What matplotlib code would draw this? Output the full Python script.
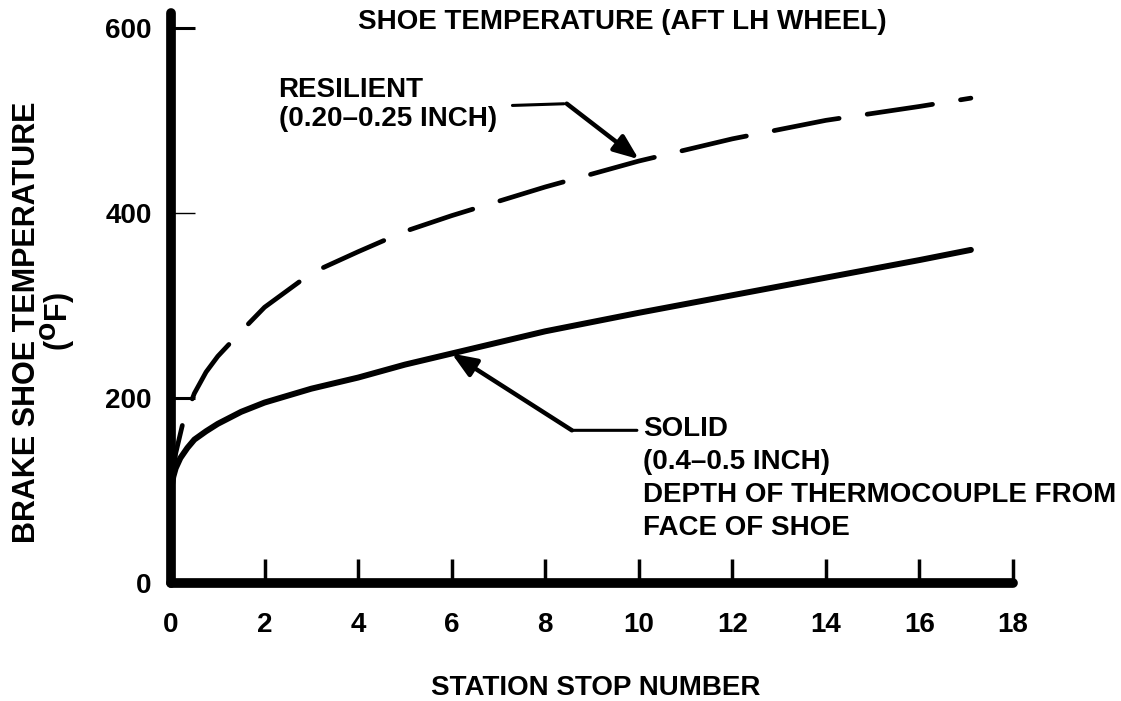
import matplotlib
matplotlib.use("Agg")
import matplotlib.pyplot as plt
import numpy as np

# Station stop number vs. brake shoe temperature (deg F)
solid_stops = [0, 0.05, 0.1, 0.2, 0.35, 0.5, 0.75, 1.0, 1.5, 2, 3, 4, 5, 6, 8, 10, 12, 14, 16, 17.1]
solid_temp = [100, 115, 124, 135, 146, 155, 164, 172, 185, 195, 210, 222, 236, 248, 272, 292, 311, 330, 349, 360]

resilient_stops = [0, 0.1, 0.25, 0.5, 0.75, 1.0, 1.5, 2, 3, 4, 5, 6, 8, 10, 12, 14, 16, 17.1]
resilient_temp = [100, 140, 172, 205, 228, 245, 272, 298, 335, 358, 380, 397, 428, 456, 480, 500, 515, 524]

x_ticks = [0, 2, 4, 6, 8, 10, 12, 14, 16, 18]
y_ticks = [0, 200, 400, 600]

plt.rcParams['font.family'] = ['Liberation Sans', 'DejaVu Sans']
plt.rcParams['font.weight'] = 'bold'
plt.rcParams['mathtext.default'] = 'bf'

W, H = 1121, 701
FS = 20
fig = plt.figure(figsize=(W / 100, H / 100), dpi=100)
ax = fig.add_axes([171 / W, (H - 583) / H, 842 / W, 570 / H])

ax.plot(solid_stops, solid_temp, color='black', lw=4.3, solid_capstyle='round')
ax.plot(resilient_stops, resilient_temp, color='black', lw=3.4,
        dashes=(14, 6), dash_capstyle='round')

ax.set_xlim(0, 18)
ax.set_ylim(0, 616)
for side in ('top', 'right'):
    ax.spines[side].set_visible(False)
for side in ('left', 'bottom'):
    ax.spines[side].set_linewidth(7)
    ax.spines[side].set_capstyle('round')

ax.set_xticks(x_ticks)
ax.set_xticklabels([str(t) for t in x_ticks])
ax.set_yticks(y_ticks)
ax.set_yticklabels([str(t) for t in y_ticks])
ax.tick_params(axis='x', direction='in', length=17, width=2.5, pad=21, labelsize=FS)
ax.tick_params(axis='y', direction='in', length=17, width=2.2, pad=14, labelsize=FS)
ax.yaxis.get_major_ticks()[0].tick1line.set_visible(False)
ax.yaxis.get_major_ticks()[2].tick1line.set_markeredgewidth(1.0)

fig.text(622 / W, 1 - 22 / H, 'SHOE TEMPERATURE (AFT LH WHEEL)',
         ha='center', va='center', fontsize=FS, fontweight='bold')
fig.text(596 / W, 1 - 688 / H, 'STATION STOP NUMBER',
         ha='center', va='center', fontsize=FS, fontweight='bold')
fig.text(45 / W, 1 - 322 / H, 'BRAKE SHOE TEMPERATURE\n($^{\\mathbf{O}}$F)',
         ha='center', va='center', rotation=90, fontsize=22,
         fontweight='bold', linespacing=0.85, multialignment='center')

# Resilient label with its leader
ax.text(2.3, 547, 'RESILIENT\n(0.20\u20130.25 INCH)', ha='left', va='top',
        fontsize=FS, fontweight='bold', linespacing=1.15)
ax.annotate('', xy=(8.46, 518), xytext=(7.24, 516),
            arrowprops=dict(arrowstyle='-', lw=2.2, color='black'))
i_res = resilient_stops.index(10)
ax.annotate('', xy=(resilient_stops[i_res], resilient_temp[i_res] + 2), xytext=(8.46, 518),
            arrowprops=dict(arrowstyle='-|>,head_length=1.5,head_width=0.6',
                            lw=3.2, color='black', shrinkA=0, shrinkB=0))

# Solid label with its leader
ax.text(10.1, 181, 'SOLID\n(0.4\u20130.5 INCH)\nDEPTH OF THERMOCOUPLE FROM\nFACE OF SHOE',
        ha='left', va='top', fontsize=FS, fontweight='bold', linespacing=1.36)
ax.annotate('', xy=(8.57, 165), xytext=(9.96, 165),
            arrowprops=dict(arrowstyle='-', lw=2.2, color='black', shrinkA=0, shrinkB=0))
i_sol = solid_stops.index(6)
ax.annotate('', xy=(solid_stops[i_sol], solid_temp[i_sol]), xytext=(8.57, 165),
            arrowprops=dict(arrowstyle='-|>,head_length=1.5,head_width=0.6',
                            lw=3.2, color='black', shrinkA=0, shrinkB=0))

fig.savefig('out.png', dpi=100)
